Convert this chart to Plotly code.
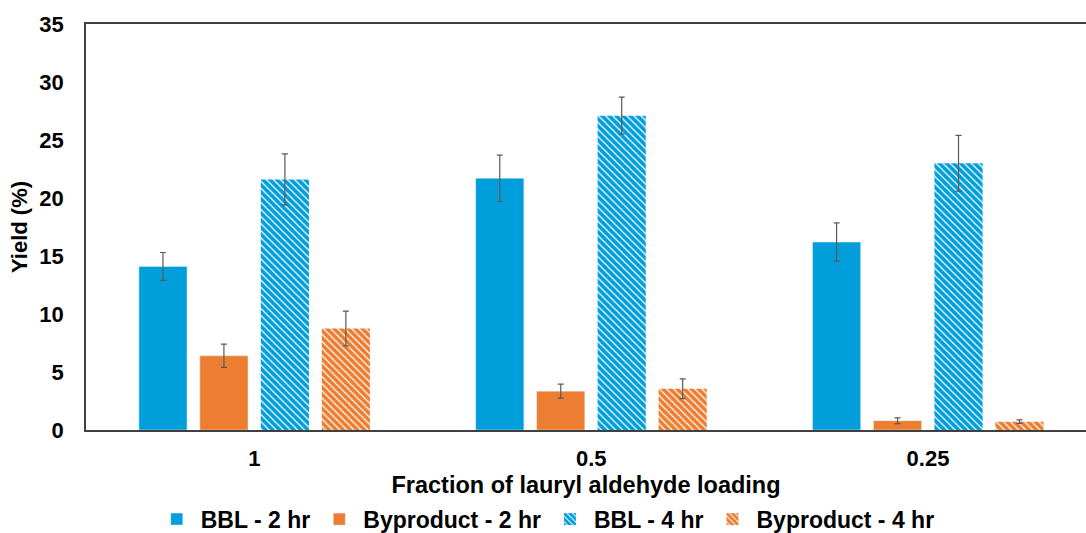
import plotly.graph_objects as go

categories = ["1", "0.5", "0.25"]
bbl_2hr = [14.1, 21.7, 16.2]
bbl_2hr_err = [1.2, 2.0, 1.65]
byp_2hr = [6.4, 3.35, 0.8]
byp_2hr_err = [1.0, 0.6, 0.25]
bbl_4hr = [21.6, 27.1, 23.0]
bbl_4hr_err = [2.2, 1.6, 2.4]
byp_4hr = [8.75, 3.55, 0.72]
byp_4hr_err = [1.5, 0.85, 0.15]

BLUE = "#009EDB"
ORANGE = "#ED7D31"
ERR = "#595959"
FONT = "Liberation Sans"

def err(vals):
    return dict(type="data", array=vals, color=ERR, thickness=1.2, width=3)

def hatch(col):
    return dict(color="white", line=dict(width=0),
                pattern=dict(shape="\\", fgcolor=col, bgcolor="white", fgopacity=1,
                             size=5, solidity=0.75))

fig = go.Figure()
fig.add_trace(go.Bar(name="BBL - 2 hr", x=categories, y=bbl_2hr, marker_color=BLUE,
                     error_y=err(bbl_2hr_err)))
fig.add_trace(go.Bar(name="Byproduct - 2 hr", x=categories, y=byp_2hr, marker_color=ORANGE,
                     error_y=err(byp_2hr_err)))
fig.add_trace(go.Bar(name="BBL - 4 hr", x=categories, y=bbl_4hr, marker=hatch(BLUE),
                     error_y=err(bbl_4hr_err)))
fig.add_trace(go.Bar(name="Byproduct - 4 hr", x=categories, y=byp_4hr, marker=hatch(ORANGE),
                     error_y=err(byp_4hr_err)))

fig.update_layout(
    width=1086, height=533,
    margin=dict(l=86, r=0, t=24, b=103),
    plot_bgcolor="white", paper_bgcolor="white",
    barmode="group", bargap=0.276, bargroupgap=0.21,
    font=dict(family=FONT, size=22, color="black"),
    showlegend=True,
    legend=dict(orientation="h", xref="container", x=0.503, xanchor="center",
                yref="container", y=0.026, yanchor="middle",
                font=dict(family=FONT, size=23, color="black", weight="bold"),
                itemwidth=38, tracegroupgap=0),
    xaxis=dict(type="category", range=[-0.5, 2.469], showgrid=False, automargin=False,
               showline=True, linecolor="#404040", linewidth=1.5, mirror=True,
               ticks="", ticklabelstandoff=8,
               tickfont=dict(family=FONT, size=22, weight="bold"),
               title=dict(text="<b>Fraction of lauryl aldehyde loading</b>",
                          font=dict(family=FONT, size=23.5), standoff=28)),
    yaxis=dict(range=[0, 35], dtick=5, showgrid=False, zeroline=False, automargin=False,
               showline=True, linecolor="#404040", linewidth=1.5,
               ticks="", ticklabelstandoff=16,
               tickfont=dict(family=FONT, size=22, weight="bold"),
               title=dict(text="<b>Yield (%)</b>", font=dict(family=FONT, size=22),
                          standoff=6)),
)

fig.write_html("out.html")
